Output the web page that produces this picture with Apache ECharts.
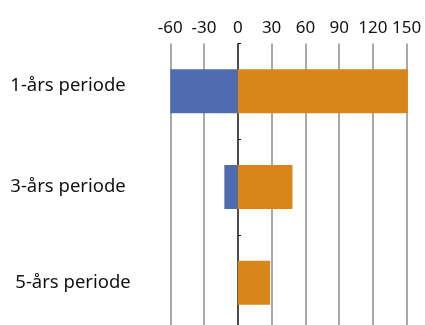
<!DOCTYPE html>
<html><head><meta charset="utf-8">
<script src="https://cdn.jsdelivr.net/npm/echarts@6/dist/echarts.min.js"></script>
<style>html,body{margin:0;padding:0;background:#fff}#c{width:425px;height:325px}</style>
</head><body><div id="c"></div>
<script>
const categories = ['1-års periode', '3-års periode', '5-års periode'];
const negValues = [-60, -12, 0];
const posValues = [151, 48.5, 28.7];
const xTicks = [-60, -30, 0, 30, 60, 90, 120, 150];

const font = '"Noto Sans", "Open Sans", sans-serif';
const labelPad = [[0, 0, 0, 0], [0, 0, 0, 0], [0, 0, 0, 5]];
const labelVA = ['bottom', 'middle', 'middle'];
const labelLH = [12, 22, 22];
const chart = echarts.init(document.getElementById('c'), null, {renderer: 'canvas'});
const gl = '#8c8c8c';
chart.setOption({
  animation: false,
  grid: {left: 170.3, width: 236.4, top: 43.5, height: 287, outerBoundsMode: 'none', containLabel: false},
  xAxis: {
    type: 'value', position: 'top',
    min: xTicks[0], max: xTicks[xTicks.length - 1], interval: 30,
    axisLine: {show: false}, axisTick: {show: false},
    axisLabel: {fontFamily: font, fontSize: 17, color: '#111', margin: 7},
    splitLine: {show: true, lineStyle: {color: [gl, gl, '#111', gl, gl, gl, gl, gl], width: 1.5}}
  },
  yAxis: [{
    type: 'category', inverse: true,
    data: categories.map((c, i) => ({value: c, textStyle: {align: 'left', verticalAlign: labelVA[i], lineHeight: labelLH[i], padding: labelPad[i], fontFamily: font, fontSize: 18.5, color: '#111'}})),
    axisLine: {show: false, onZero: false}, axisTick: {show: false},
    axisLabel: {fontFamily: font, fontSize: 18.5, color: '#111', align: 'left', margin: 160}
  }, {
    type: 'category', data: categories, inverse: true, position: 'left',
    axisLine: {show: false, onZero: true},
    axisTick: {show: true, inside: true, length: 3, lineStyle: {color: '#000'}},
    axisLabel: {show: false}
  }],
  series: [{
    type: 'bar', stack: 's', data: negValues, barWidth: 44, clip: false,
    itemStyle: {color: '#4F6CB0'}
  }, {
    type: 'bar', stack: 's', data: posValues, barWidth: 44, clip: false,
    itemStyle: {color: '#D8861A'}
  }]
});
</script></body></html>
